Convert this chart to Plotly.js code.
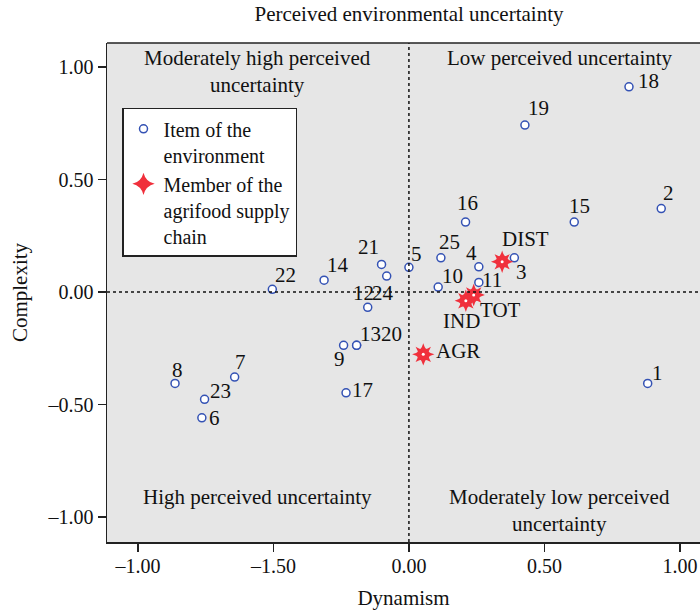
<!DOCTYPE html>
<html>
<head>
<meta charset="utf-8">
<script src="https://cdn.plot.ly/plotly-3.0.1.min.js"></script>
<style>html,body{margin:0;padding:0;overflow:hidden;background:#fff;}#chart{width:700px;height:613px;}</style>
</head>
<body>
<div id="chart"></div>
<script>
// Items of the environment
const itemLabels = ['1','2','3','4','5','6','7','8','9','10','11','12','13','14','15','16','17','18','19','20','21','22','23','24','25'];
const itemDynamism = [0.881,0.931,0.389,0.258,0.000,-0.764,-0.643,-0.863,-0.241,0.108,0.258,-0.152,-0.193,-0.313,0.610,0.209,-0.232,0.812,0.428,-0.193,-0.101,-0.504,-0.754,-0.082,0.118];
const itemComplexity = [-0.406,0.371,0.152,0.112,0.110,-0.559,-0.378,-0.406,-0.237,0.022,0.043,-0.068,-0.237,0.053,0.311,0.311,-0.448,0.912,0.742,-0.237,0.123,0.012,-0.477,0.071,0.152];

// Members of the agrifood supply chain
const memberLabels = ['DIST','TOT','IND','AGR'];
const memberDynamism = [0.344,0.239,0.210,0.053];
const memberComplexity = [0.135,-0.013,-0.039,-0.277];

// Axis ticks (as printed in the original)
const xTickVals = [-1,-0.5,0,0.5,1];
const xTickText = ['\u20131.00','\u20131.50','0.00','0.50','1.00'];
const yTickVals = [1,0.5,0,-0.5,-1];
const yTickText = ['1.00','0.50','0.00','\u20130.50','\u20131.00'];

// Label offsets in pixels (dx right, dy down) — layout only
const itemLabelOffsets = {
  '1':[10,-8],'2':[7,-13.5],'3':[7.4,16.3],'4':[-7,-12],'5':[7.5,-11],'6':[13,2],'7':[6,-12.7],'8':[2,-11.6],
  '9':[-3.7,15.7],'10':[14,-9],'11':[13,0],'12':[-4.4,-12.3],'13':[14.3,-9.3],'14':[14,-13],'15':[5,-14],
  '16':[2,-17],'17':[16.5,-1],'18':[19.7,-4],'19':[13.5,-15],'20':[34.8,-9.3],'21':[-13,-15],'22':[12.7,-12.6],
  '23':[16,-6],'24':[-3.4,19],'25':[9,-14]
};
const memberLabelOffsets = {'DIST':[23,-21],'TOT':[27,17],'IND':[-4.3,22],'AGR':[34.4,-1]};

const FONT = 'Liberation Serif, Times New Roman, serif';
const BLUE = '#3452b4';
const RED = '#f0303c';

const traces = [
  {
    type:'scatter', mode:'markers', x:itemDynamism, y:itemComplexity,
    name:'Item of the<br>environment',
    marker:{symbol:'circle', size:8, color:'#ffffff', line:{color:BLUE, width:1.5}},
    hoverinfo:'skip'
  },
  {
    type:'scatter', mode:'markers', x:memberDynamism, y:memberComplexity,
    name:'Member of the<br>agrifood supply<br>chain',
    marker:{symbol:'star-diamond', size:16, color:RED, line:{width:0}},
    hoverinfo:'skip'
  },
  {
    type:'scatter', mode:'markers', x:memberDynamism, y:memberComplexity,
    showlegend:false,
    marker:{symbol:'star-square', size:14, color:RED, line:{width:0}},
    hoverinfo:'skip'
  },
  {
    type:'scatter', mode:'markers', x:memberDynamism, y:memberComplexity,
    showlegend:false,
    marker:{symbol:'circle', size:3, color:'#ffffff', line:{width:0}},
    hoverinfo:'skip'
  }
];

const annotations = [];
itemLabels.forEach((lab,i)=>{
  const o = itemLabelOffsets[lab];
  annotations.push({x:itemDynamism[i], y:itemComplexity[i], xref:'x', yref:'y', text:lab, showarrow:false,
    xanchor:'center', yanchor:'middle', xshift:o[0], yshift:-o[1]+2, font:{family:FONT, size:21, color:'#111'}});
});
memberLabels.forEach((lab,i)=>{
  const o = memberLabelOffsets[lab];
  annotations.push({x:memberDynamism[i], y:memberComplexity[i], xref:'x', yref:'y', text:lab, showarrow:false,
    xanchor:'center', yanchor:'middle', xshift:o[0], yshift:-o[1]+2, font:{family:FONT, size:21, color:'#111'}});
});
// Quadrant labels
const qFont = {family:FONT, size:21, color:'#111'};
annotations.push({xref:'x', yref:'y', x:-0.557, y:1.103, text:'Moderately high perceived<br>uncertainty', showarrow:false, xanchor:'center', yanchor:'top', font:qFont});
annotations.push({xref:'x', yref:'y', x:0.557, y:1.103, text:'Low perceived uncertainty', showarrow:false, xanchor:'center', yanchor:'top', font:qFont});
annotations.push({xref:'x', yref:'y', x:-0.557, y:-0.849, text:'High perceived uncertainty', showarrow:false, xanchor:'center', yanchor:'top', font:qFont});
annotations.push({xref:'x', yref:'y', x:0.557, y:-0.849, text:'Moderately low perceived<br>uncertainty', showarrow:false, xanchor:'center', yanchor:'top', font:qFont});

const layout = {
  width:700, height:613,
  margin:{l:107, r:0, t:43, b:71, pad:0},
  paper_bgcolor:'#ffffff', plot_bgcolor:'#e6e6e6',
  font:{family:FONT, size:20, color:'#111'},
  title:{text:'Perceived environmental uncertainty', font:{family:FONT, size:21, color:'#111'},
    xref:'container', x:409/700, xanchor:'center', yref:'container', y:1-14/613, yanchor:'middle'},
  xaxis:{range:[-1.114,1.074], tickvals:xTickVals, ticktext:xTickText, ticks:'outside', ticklen:8, tickwidth:1.5, tickcolor:'#222',
    ticklabelstandoff:-3,
    showline:true, linecolor:'#222', linewidth:1.5, showgrid:false, zeroline:false, tickfont:{family:FONT, size:20, color:'#111'},
    title:{text:'Dynamism', font:{family:FONT, size:21, color:'#111'}, standoff:15}},
  yaxis:{range:[-1.111,1.107], tickvals:yTickVals, ticktext:yTickText, ticks:'outside', ticklen:8, tickwidth:1.5, tickcolor:'#222',
    showline:true, linecolor:'#222', linewidth:1.5, showgrid:false, zeroline:false, tickfont:{family:FONT, size:20, color:'#111'},
    title:{text:'Complexity', font:{family:FONT, size:21, color:'#111'}, standoff:14}},
  showlegend:true,
  legend:{x:0.0253, y:0.87, xanchor:'left', yanchor:'top', bgcolor:'#ffffff', bordercolor:'#222', borderwidth:1.5,
    font:{family:FONT, size:20, color:'#111'}, valign:'top', itemsizing:'trace', tracegroupgap:0},
  shapes:[
    {type:'line', xref:'x', yref:'paper', x0:0, x1:0, y0:0, y1:1, line:{color:'#111', width:1.5, dash:'dot'}},
    {type:'line', xref:'paper', yref:'y', x0:0, x1:1, y0:0, y1:0, line:{color:'#111', width:1.5, dash:'dot'}},
    {type:'line', xref:'paper', yref:'paper', x0:0, x1:1, y0:1, y1:1, line:{color:'#222', width:1.5}}
  ],
  annotations:annotations
};

Plotly.newPlot('chart', traces, layout, {displayModeBar:false, staticPlot:true});
</script>
</body>
</html>
